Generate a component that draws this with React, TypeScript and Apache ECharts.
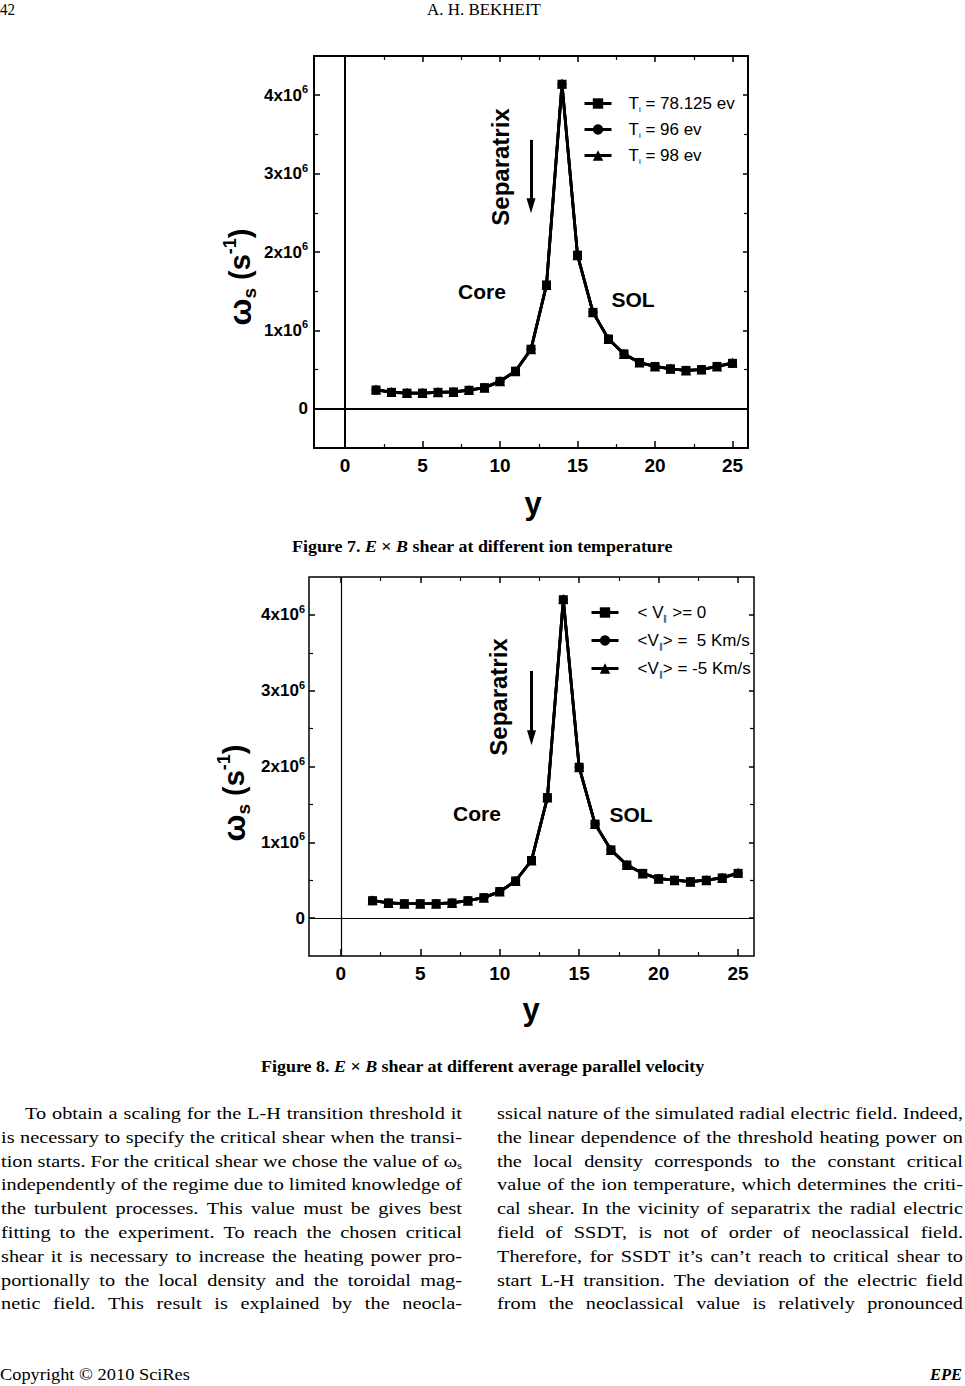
import React, { useEffect, useRef } from 'react';
import * as echarts from 'echarts';

const W = 965;
const H = 1386;
const SANS = 'Liberation Sans';
const SERIF = 'Liberation Serif';

// ---------- data (ω_s in units of 10^6 s^-1) ----------
const yCoord = [2, 3, 4, 5, 6, 7, 8, 9, 10, 11, 12, 13, 14, 15, 16, 17, 18, 19, 20, 21, 22, 23, 24, 25];
const fig7Ti78125 = [0.24, 0.21, 0.2, 0.2, 0.21, 0.215, 0.236, 0.27, 0.35, 0.48, 0.76, 1.58, 4.14, 1.96, 1.23, 0.89, 0.7, 0.59, 0.54, 0.51, 0.49, 0.5, 0.54, 0.58];
const fig7Ti96 = [0.24, 0.21, 0.2, 0.2, 0.21, 0.215, 0.236, 0.27, 0.35, 0.48, 0.76, 1.58, 4.14, 1.96, 1.23, 0.89, 0.7, 0.59, 0.54, 0.51, 0.49, 0.5, 0.54, 0.58];
const fig7Ti98 = [0.245, 0.215, 0.2, 0.2, 0.21, 0.215, 0.24, 0.27, 0.35, 0.48, 0.76, 1.58, 4.15, 1.96, 1.23, 0.89, 0.7, 0.59, 0.54, 0.51, 0.49, 0.5, 0.54, 0.59];
const fig8V0 = [0.23, 0.2, 0.19, 0.19, 0.19, 0.2, 0.23, 0.27, 0.35, 0.49, 0.76, 1.59, 4.2, 1.99, 1.24, 0.9, 0.7, 0.59, 0.52, 0.5, 0.48, 0.5, 0.53, 0.59];
const fig8Vp5 = [0.23, 0.2, 0.19, 0.19, 0.19, 0.2, 0.23, 0.27, 0.35, 0.49, 0.76, 1.59, 4.2, 1.99, 1.24, 0.9, 0.7, 0.59, 0.52, 0.5, 0.48, 0.5, 0.53, 0.59];
const fig8Vm5 = [0.235, 0.2, 0.19, 0.19, 0.19, 0.2, 0.23, 0.27, 0.35, 0.49, 0.76, 1.59, 4.21, 1.99, 1.24, 0.9, 0.7, 0.59, 0.52, 0.5, 0.48, 0.5, 0.53, 0.6];

const xMajorTicks = [0, 5, 10, 15, 20, 25];
const xMinorTicks = [2.5, 7.5, 12.5, 17.5, 22.5];
const yMajorTicks = [0, 1, 2, 3, 4];
const yMinorTicks = [0.5, 1.5, 2.5, 3.5];

const fig7LegendParts = [
  ['T', 'i', ' = 78.125 ev'],
  ['T', 'i', ' = 96 ev'],
  ['T', 'i', ' = 98 ev'],
];
const fig8LegendParts = [
  ['< V', '∥', ' >= 0'],
  ['<V', '∥', '> =  5 Km/s'],
  ['<V', '∥', '> = -5 Km/s'],
];

// Separatrix arrow (data coordinates: y position, from / to in 10^6)
const fig7Arrow = [12, 3.43, 2.59];
const fig8Arrow = [12, 3.26, 2.38];

const leftColumnLines = [
  'To obtain a scaling for the L-H transition threshold it',
  'is necessary to specify the critical shear when the transi-',
  'tion starts. For the critical shear we chose the value of ω_s',
  'independently of the regime due to limited knowledge of',
  'the turbulent processes. This value must be gives best',
  'fitting to the experiment. To reach the chosen critical',
  'shear it is necessary to increase the heating power pro-',
  'portionally to the local density and the toroidal mag-',
  'netic field. This result is explained by the neocla-',
];
const rightColumnLines = [
  'ssical nature of the simulated radial electric field. Indeed,',
  'the linear dependence of the threshold heating power on',
  'the local density corresponds to the constant critical',
  'value of the ion temperature, which determines the criti-',
  'cal shear. In the vicinity of separatrix the radial electric',
  'field of SSDT, is not of order of neoclassical field.',
  'Therefore, for SSDT it’s can’t reach to critical shear to',
  'start L-H transition. The deviation of the electric field',
  'from the neoclassical value is relatively pronounced',
];

function buildOption() {
  const canvas = document.createElement('canvas');
  const ctx = canvas.getContext('2d')!;
  const measure = (t: string, size: number, weight = 'normal', style = 'normal', fam = SERIF) => {
    ctx.font = `${style} ${weight} ${size}px "${fam}"`;
    return ctx.measureText(t).width;
  };

  const graphics: any[] = [];
  const txt = (x: number, y: number, text: string, extra: any = {}, el: any = {}) => ({
    type: 'text',
    x,
    y,
    silent: true,
    ...el,
    style: {
      text,
      fill: '#000',
      textAlign: 'left',
      align: 'left',
      textVerticalAlign: 'middle',
      verticalAlign: 'middle',
      ...extra,
    },
  });

  // ---- body text, justified ----
  const bodySize = 17.5;
  const subSize = 11;
  const wordWidth = (w: string) => {
    if (w.includes('_')) {
      const [b, s] = w.split('_');
      return measure(b, bodySize) + measure(s, subSize);
    }
    return measure(w, bodySize);
  };
  const placeLine = (line: string, x0: number, x1: number, y: number) => {
    const words = line.split(' ');
    const widths = words.map(wordWidth);
    const sum = widths.reduce((a, b) => a + b, 0);
    const space = measure(' ', bodySize);
    const natural = sum + space * (words.length - 1);
    const scale = Math.min(1.16, (x1 - x0) / natural);
    const gap = (x1 - x0 - scale * sum) / (words.length - 1);
    let x = x0;
    words.forEach((w, i) => {
      let text = w;
      let rich: any = undefined;
      if (w.includes('_')) {
        const [b, s] = w.split('_');
        text = `{n|${b}}{s|${s}}`;
        rich = {
          n: { fontSize: bodySize, fontFamily: SERIF, fill: '#000', lineHeight: 20 },
          s: { fontSize: subSize, fontFamily: SERIF, fill: '#000', lineHeight: 11, verticalAlign: 'bottom' },
        };
      }
      graphics.push(
        txt(x, y, text, { fontSize: bodySize, fontFamily: SERIF, ...(rich ? { rich } : {}) }, { scaleX: scale })
      );
      x += widths[i] * scale + gap;
    });
  };
  const lineY0 = 1113;
  const lineStep = 23.8;
  leftColumnLines.forEach((l, i) => placeLine(l, i === 0 ? 25 : 1, 462, lineY0 + i * lineStep));
  rightColumnLines.forEach((l, i) => placeLine(l, 497, 963, lineY0 + i * lineStep));

  // ---- single-line fitted texts ----
  const fitted = (parts: { t: string; w?: string; s?: string }[], size: number, x0: number, x1: number, y: number) => {
    let sum = 0;
    const rich: any = {};
    let text = '';
    parts.forEach((p, i) => {
      sum += measure(p.t, size, p.w || 'normal', p.s || 'normal');
      rich['p' + i] = { fontSize: size, fontFamily: SERIF, fontWeight: p.w || 'normal', fontStyle: p.s || 'normal', fill: '#000' };
      text += `{p${i}|${p.t}}`;
    });
    graphics.push(txt(x0, y, text, { rich, fontSize: size, fontFamily: SERIF }, { scaleX: (x1 - x0) / sum }));
  };
  fitted([{ t: '42' }], 16, 0, 15, 9.5);
  fitted([{ t: 'A. H. BEKHEIT' }], 16, 427, 541, 9.5);
  fitted(
    [
      { t: 'Figure 7. ', w: 'bold' },
      { t: 'E', w: 'bold', s: 'italic' },
      { t: ' × ', w: 'bold' },
      { t: 'B', w: 'bold', s: 'italic' },
      { t: ' shear at different ion temperature', w: 'bold' },
    ],
    17,
    292,
    673,
    546.5
  );
  fitted(
    [
      { t: 'Figure 8. ', w: 'bold' },
      { t: 'E', w: 'bold', s: 'italic' },
      { t: ' × ', w: 'bold' },
      { t: 'B', w: 'bold', s: 'italic' },
      { t: ' shear at different average parallel velocity', w: 'bold' },
    ],
    17,
    261,
    705,
    1066.5
  );
  fitted([{ t: 'Copyright © 2010 SciRes' }], 16, 0, 190, 1375);
  fitted([{ t: 'EPE', w: 'bold', s: 'italic' }], 16, 930, 962, 1375);

  // ---- chart annotations ----
  const bold = (size: number) => ({ fontSize: size, fontWeight: 'bold', fontFamily: SANS, textAlign: 'center', align: 'center' });
  const yTitleRich = {
    w: { fontSize: 32, fontWeight: 'bold', fontFamily: SANS, fill: '#000', lineHeight: 38 },
    s: { fontSize: 19, fontWeight: 'bold', fontFamily: SANS, fill: '#000', lineHeight: 19, verticalAlign: 'bottom' },
    p: { fontSize: 29, fontWeight: 'bold', fontFamily: SANS, fill: '#000', lineHeight: 38 },
    u: { fontSize: 18, fontWeight: 'bold', fontFamily: SANS, fill: '#000', lineHeight: 18, verticalAlign: 'top' },
  };
  const yTitle = '{w|ω}{s|s}{p| (s}{u|-1}{p|)}';
  const annot = [
    { sep: [500, 167], core: [482, 291], sol: [633, 299], yt: [240, 277], yx: [533, 503] },
    { sep: [498, 697], core: [477, 813], sol: [631, 814], yt: [234, 793], yx: [531, 1009] },
  ];
  annot.forEach((a) => {
    graphics.push(txt(a.sep[0], a.sep[1], 'Separatrix', bold(24), { rotation: Math.PI / 2 }));
    graphics.push(txt(a.core[0], a.core[1], 'Core', bold(21)));
    graphics.push(txt(a.sol[0], a.sol[1], 'SOL', bold(21)));
    graphics.push(txt(a.yt[0], a.yt[1], yTitle, { ...bold(28), rich: yTitleRich }, { rotation: Math.PI / 2 }));
    graphics.push(txt(a.yx[0], a.yx[1], 'y', bold(31)));
  });

  // ---- grids and axes ----
  const gridDefs = [
    { left: 314, top: 56, width: 434, height: 392, border: 2, zero: 2, ylm: 6 },
    { left: 309, top: 577, width: 445, height: 379, border: 1.5, zero: 1.2, ylm: 4 },
  ];
  const grid = gridDefs.map((g) => ({
    left: g.left,
    top: g.top,
    width: g.width,
    height: g.height,
    show: true,
    borderColor: '#000',
    borderWidth: g.border,
    backgroundColor: 'transparent',
    containLabel: false,
  }));

  const tick = (vals: number[], len: number, width: number) => ({
    show: true,
    inside: true,
    length: len,
    customValues: vals,
    lineStyle: { color: '#000', width },
  });
  const xAxis: any[] = [];
  const yAxis: any[] = [];
  gridDefs.forEach((g, gi) => {
    const xb = { type: 'value', gridIndex: gi, min: -2, max: 26, axisLine: { show: false, onZero: false }, splitLine: { show: false } };
    xAxis.push({
      ...xb,
      position: 'bottom',
      axisTick: tick(xMajorTicks, 7, 1.5),
      axisLabel: {
        show: true,
        customValues: xMajorTicks,
        margin: 8,
        color: '#000',
        fontSize: 19,
        fontWeight: 'bold',
        fontFamily: SANS,
      },
    });
    xAxis.push({ ...xb, position: 'bottom', axisTick: tick(xMinorTicks, 4, 1.2), axisLabel: { show: false } });
    xAxis.push({ ...xb, position: 'top', axisTick: tick(xMajorTicks, 6, 1.5), axisLabel: { show: false } });
    xAxis.push({ ...xb, position: 'top', axisTick: tick(xMinorTicks, 4, 1.2), axisLabel: { show: false } });

    const yb = { type: 'value', gridIndex: gi, min: -0.5, max: 4.5, axisLine: { show: false, onZero: false }, splitLine: { show: false } };
    yAxis.push({
      ...yb,
      position: 'left',
      axisTick: tick(yMajorTicks, 6, 1.5),
      axisLabel: {
        show: true,
        customValues: yMajorTicks,
        margin: g.ylm,
        color: '#000',
        formatter: (v: number) => (v === 0 ? '{b|0}' : `{b|${v}x10}{sup|6}`),
        rich: {
          b: { fontSize: 17, fontWeight: 'bold', fontFamily: SANS, color: '#000', lineHeight: 23 },
          sup: { fontSize: 11, fontWeight: 'bold', fontFamily: SANS, color: '#000', lineHeight: 11, verticalAlign: 'top' },
        },
      },
    });
    yAxis.push({ ...yb, position: 'left', axisTick: tick(yMinorTicks, 4, 1.2), axisLabel: { show: false } });
    yAxis.push({ ...yb, position: 'right', axisTick: tick(yMajorTicks, 5, 1.5), axisLabel: { show: false } });
    yAxis.push({ ...yb, position: 'right', axisTick: tick(yMinorTicks, 4, 1.2), axisLabel: { show: false } });
  });

  const lineSeries = (name: string, vals: number[], symbol: string, size: number, gi: number, extra: any = {}) => ({
    type: 'line',
    name,
    data: yCoord.map((x, i) => [x, vals[i]]),
    xAxisIndex: gi * 4,
    yAxisIndex: gi * 4,
    symbol,
    symbolSize: size,
    showSymbol: true,
    silent: true,
    lineStyle: { color: '#000', width: 2.8 },
    itemStyle: { color: '#000' },
    z: 3,
    ...extra,
  });
  const zeroLines = (zero: number) => ({
    markLine: {
      silent: true,
      symbol: ['none', 'none'],
      label: { show: false },
      lineStyle: { color: '#000', width: zero, type: 'solid' },
      data: [{ yAxis: 0 }, { xAxis: 0 }],
    },
  });
  const arrowLine = (arrow: number[]) => ({
    markLine: {
      silent: true,
      symbol: ['none', 'triangle'],
      symbolSize: [9, 15],
      label: { show: false },
      lineStyle: { color: '#000', width: 3, type: 'solid' },
      data: [[{ coord: [arrow[0], arrow[1]] }, { coord: [arrow[0], arrow[2]] }]],
    },
  });

  const n7 = fig7LegendParts.map((p) => p.join(''));
  const n8 = fig8LegendParts.map((p) => p.join(''));
  const series = [
    lineSeries(n7[2], fig7Ti98, 'triangle', 10, 0, zeroLines(gridDefs[0].zero)),
    lineSeries(n7[1], fig7Ti96, 'circle', 9, 0, arrowLine(fig7Arrow)),
    lineSeries(n7[0], fig7Ti78125, 'rect', 9, 0),
    lineSeries(n8[2], fig8Vm5, 'triangle', 10, 1, zeroLines(gridDefs[1].zero)),
    lineSeries(n8[1], fig8Vp5, 'circle', 9, 1, arrowLine(fig8Arrow)),
    lineSeries(n8[0], fig8V0, 'rect', 9, 1),
  ];

  const legendRich = {
    a: { fontSize: 17, fontFamily: SANS, color: '#000', lineHeight: 20 },
    sub: { fontSize: 8, fontFamily: SANS, color: '#000', lineHeight: 8, verticalAlign: 'bottom' },
  };
  const mkLegend = (names: string[], parts: string[][], left: number, top: number, gap: number, pad: number) => ({
    data: names,
    orient: 'vertical',
    left,
    top,
    itemWidth: 27,
    itemHeight: 13,
    itemGap: gap,
    selectedMode: false,
    padding: 0,
    lineStyle: { color: '#000', width: 3 },
    itemStyle: { color: '#000' },
    formatter: (name: string) => {
      const p = parts[names.indexOf(name)];
      return `{a|${p[0]}}{sub|${p[1]}}{a|${p[2]}}`;
    },
    textStyle: { color: '#000', rich: legendRich, padding: [0, 0, 0, pad] },
  });

  return {
    animation: false,
    backgroundColor: '#fff',
    grid,
    xAxis,
    yAxis,
    series,
    legend: [mkLegend(n7, fig7LegendParts, 583, 95, 7.5, 12), mkLegend(n8, fig8LegendParts, 590, 604, 9.5, 14)],
    graphic: graphics,
  };
}

export default function App() {
  const ref = useRef<HTMLDivElement>(null);
  useEffect(() => {
    if (!ref.current) return;
    const chart = echarts.init(ref.current, null, { renderer: 'svg', width: W, height: H });
    chart.setOption(buildOption() as any);
    return () => chart.dispose();
  }, []);
  return <div ref={ref} style={{ position: 'absolute', left: 0, top: 0, width: W, height: H, background: '#fff' }} />;
}
